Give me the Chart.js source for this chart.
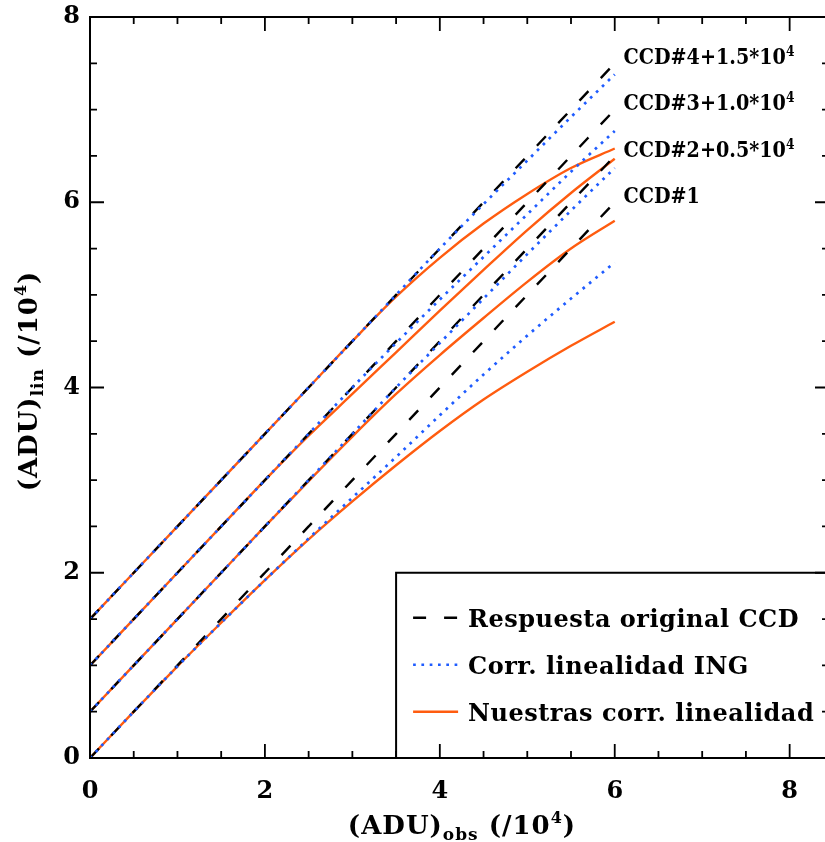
<!DOCTYPE html>
<html>
<head>
<meta charset="utf-8">
<script src="https://cdn.jsdelivr.net/npm/chart.js@4"></script>
<style>
html, body { margin:0; padding:0; overflow:hidden; background:#fff; }
canvas { display:block; }
</style>
</head>
<body>
<canvas id="chart" width="840" height="842"></canvas>
<script>
// (ADU)obs in units of 10^4
var xObs = [0, 0.5, 1, 1.5, 2, 2.5, 3, 3.5, 4, 4.5, 5, 5.5, 6];

// original CCD response (straight), each CCD shifted by its offset
var origCcd1 = [0, 0.5, 1, 1.5, 2, 2.5, 3, 3.5, 4, 4.5, 5, 5.5, 6];
var origCcd2 = [0.5, 1, 1.5, 2, 2.5, 3, 3.5, 4, 4.5, 5, 5.5, 6, 6.5];
var origCcd3 = [1, 1.5, 2, 2.5, 3, 3.5, 4, 4.5, 5, 5.5, 6, 6.5, 7];
var origCcd4 = [1.5, 2, 2.5, 3, 3.5, 4, 4.5, 5, 5.5, 6, 6.5, 7, 7.5];

// ING linearity correction
var ingCcd1 = [0, 0.5, 0.99, 1.46, 1.92, 2.37, 2.81, 3.25, 3.7, 4.14, 4.56, 4.96, 5.35];
var ingCcd2 = [0.5, 1, 1.5, 2, 2.5, 3, 3.5, 4, 4.48, 4.96, 5.44, 5.91, 6.37];
var ingCcd3 = [1, 1.5, 2, 2.5, 3, 3.5, 4, 4.48, 4.95, 5.41, 5.87, 6.33, 6.77];
var ingCcd4 = [1.5, 2, 2.5, 3, 3.5, 4, 4.5, 5, 5.5, 5.98, 6.45, 6.92, 7.38];

// our linearity correction
var ourCcd1 = [0, 0.5, 0.99, 1.46, 1.92, 2.36, 2.77, 3.16, 3.53, 3.87, 4.17, 4.45, 4.71];
var ourCcd2 = [0.5, 1, 1.5, 2, 2.5, 2.99, 3.47, 3.93, 4.35, 4.75, 5.14, 5.5, 5.8];
var ourCcd3 = [1, 1.5, 2, 2.5, 3, 3.48, 3.93, 4.38, 4.83, 5.27, 5.7, 6.1, 6.47];
var ourCcd4 = [1.5, 2, 2.5, 3, 3.5, 4, 4.5, 4.98, 5.4, 5.77, 6.09, 6.37, 6.58];

var seriesNames = ['Respuesta original CCD', 'Corr. linealidad ING', 'Nuestras corr. linealidad'];
var ccdLabels = ['CCD#1', 'CCD#2+0.5*10', 'CCD#3+1.0*10', 'CCD#4+1.5*10'];
var ccdOffsets = [0, 0.5, 1.0, 1.5];
var tickValues = [0, 0.5, 1, 1.5, 2, 2.5, 3, 3.5, 4, 4.5, 5, 5.5, 6, 6.5, 7, 7.5, 8];

var FONT = '"DejaVu Serif"';
var black = '#000000', blue = '#1f5cff', orange = '#ff5c0f';

function pts(ys) {
    return xObs.map(function(x, i){ return {x: x, y: ys[i]}; });
}

var datasets = [];
[origCcd1, origCcd2, origCcd3, origCcd4].forEach(function(d){
    datasets.push({label: seriesNames[0], data: pts(d), borderColor: black, borderWidth: 2.4,
        borderDash: [13, 18], order: 1});
});
[ingCcd1, ingCcd2, ingCcd3, ingCcd4].forEach(function(d){
    datasets.push({label: seriesNames[1], data: pts(d), borderColor: blue, borderWidth: 2.7,
        borderDash: [2.7, 5.6], order: 0});
});
[ourCcd1, ourCcd2, ourCcd3, ourCcd4].forEach(function(d){
    datasets.push({label: seriesNames[2], data: pts(d), borderColor: orange, borderWidth: 2.4,
        order: 2});
});

// draws text pieces with sub/superscripts; parts = [text, size, dy]
function drawParts(ctx, parts, x, y, align, spacing, sx) {
    sx = sx || 1;
    ctx.save();
    ctx.letterSpacing = (spacing || 0) + 'px';
    var widths = parts.map(function(p){
        ctx.font = 'bold ' + p[1] + 'px ' + FONT;
        return ctx.measureText(p[0]).width;
    });
    var total = widths.reduce(function(a, b){ return a + b; }, 0);
    ctx.translate(x, y);
    ctx.scale(sx, 1);
    var cx = align === 'center' ? -total / 2 : 0;
    parts.forEach(function(p, i){
        ctx.font = 'bold ' + p[1] + 'px ' + FONT;
        ctx.fillText(p[0], cx, p[2]);
        cx += widths[i];
    });
    ctx.restore();
}

function tickPlacement(s) {
    s.ticks = tickValues.map(function(v){ return {value: v}; });
}
function noOverhang(s) {
    s.paddingTop = 0; s.paddingBottom = 0; s.paddingLeft = 0; s.paddingRight = 0;
}

var decorations = {
    id: 'decorations',
    afterDatasetsDraw: function(chart) {
        var ctx = chart.ctx, a = chart.chartArea;
        var xs = chart.scales.x, ys = chart.scales.y;
        ctx.save();
        ctx.fillStyle = black;
        ctx.textAlign = 'left';
        ctx.textBaseline = 'alphabetic';

        // CCD labels
        ccdLabels.forEach(function(t, i){
            var px = xs.getPixelForValue(6.1);
            var py = ys.getPixelForValue(ccdOffsets[i] + 6.08) + 8;
            var parts = [[t, 22, 0]];
            if (i > 0) parts.push(['4', 14, -8]);
            drawParts(ctx, parts, px, py, 'left', 0, 0.87);
        });

        // legend box
        var lx = xs.getPixelForValue(3.5), ly = ys.getPixelForValue(2);
        ctx.fillStyle = '#fff';
        ctx.fillRect(lx, ly, a.right - lx, a.bottom - ly);
        ctx.strokeStyle = black;
        ctx.lineWidth = 2;
        ctx.strokeRect(lx, ly, a.right - lx + 5, a.bottom - ly);
        var groups = [datasets[0], datasets[4], datasets[8]];
        groups.forEach(function(ds, i){
            var yy = ly + 45 + i * 47;
            ctx.save();
            ctx.strokeStyle = ds.borderColor;
            ctx.lineWidth = ds.borderWidth;
            ctx.setLineDash(ds.borderDash || []);
            ctx.beginPath();
            ctx.moveTo(lx + 17, yy);
            ctx.lineTo(lx + 62, yy);
            ctx.stroke();
            ctx.restore();
            ctx.fillStyle = black;
            drawParts(ctx, [[seriesNames[i], 24, 0]], lx + 72, yy + 9, 'left', 0.5);
        });

        // frame
        ctx.strokeStyle = black;
        ctx.lineWidth = 2;
        ctx.strokeRect(a.left, a.top, a.right - a.left, a.bottom - a.top);

        // inward ticks on all four sides
        ctx.lineWidth = 1.8;
        ctx.beginPath();
        xs.ticks.forEach(function(t){
            var len = t.value % 2 === 0 ? 14 : 7;
            var p = xs.getPixelForValue(t.value);
            ctx.moveTo(p, a.bottom); ctx.lineTo(p, a.bottom - len);
            ctx.moveTo(p, a.top); ctx.lineTo(p, a.top + len);
        });
        ys.ticks.forEach(function(t){
            var len = t.value % 2 === 0 ? 14 : 7;
            var p = ys.getPixelForValue(t.value);
            ctx.moveTo(a.left, p); ctx.lineTo(a.left + len, p);
            ctx.moveTo(a.right, p); ctx.lineTo(a.right - len, p);
        });
        ctx.stroke();

        // axis titles
        ctx.fillStyle = black;
        drawParts(ctx, [['(ADU)', 26, 0], ['obs', 17, 6], [' (/10', 26, 0], ['4', 16, -11], [')', 26, 0]],
            462, 834, 'center', 1);
        ctx.translate(37, 381);
        ctx.rotate(-Math.PI / 2);
        drawParts(ctx, [['(ADU)', 26, 0], ['lin', 17, 6], [' (/10', 26, 0], ['4', 16, -11], [')', 26, 0]],
            0, 0, 'center', 1);
        ctx.restore();
    }
};

var tickFont = {family: FONT, weight: 'bold', size: 24};
function majorLabel(v) { return v % 2 === 0 ? v : ''; }

var ctx = document.getElementById('chart').getContext('2d');
var chart = new Chart(ctx, {
    type: 'line',
    data: {datasets: datasets},
    options: {
        responsive: false,
        animation: false,
        devicePixelRatio: 1,
        layout: {padding: {top: 17, right: 11, left: 0, bottom: 0}},
        elements: {
            point: {radius: 0},
            line: {cubicInterpolationMode: 'monotone', fill: false}
        },
        plugins: {legend: {display: false}, tooltip: {enabled: false}},
        scales: {
            x: {
                type: 'linear', min: 0, max: 8.45,
                grid: {display: false, drawTicks: false},
                border: {display: false},
                ticks: {autoSkip: false, maxRotation: 0, padding: 19,
                    color: black, font: tickFont, callback: majorLabel},
                afterBuildTicks: tickPlacement,
                afterFit: function(s){ s.height = 84; noOverhang(s); }
            },
            y: {
                type: 'linear', min: 0, max: 8,
                grid: {display: false, drawTicks: false},
                border: {display: false},
                ticks: {autoSkip: false, padding: 10,
                    color: black, font: tickFont, callback: majorLabel},
                afterBuildTicks: tickPlacement,
                afterFit: function(s){ s.width = 90; noOverhang(s); }
            }
        }
    },
    plugins: [decorations]
});
</script>
</body>
</html>
